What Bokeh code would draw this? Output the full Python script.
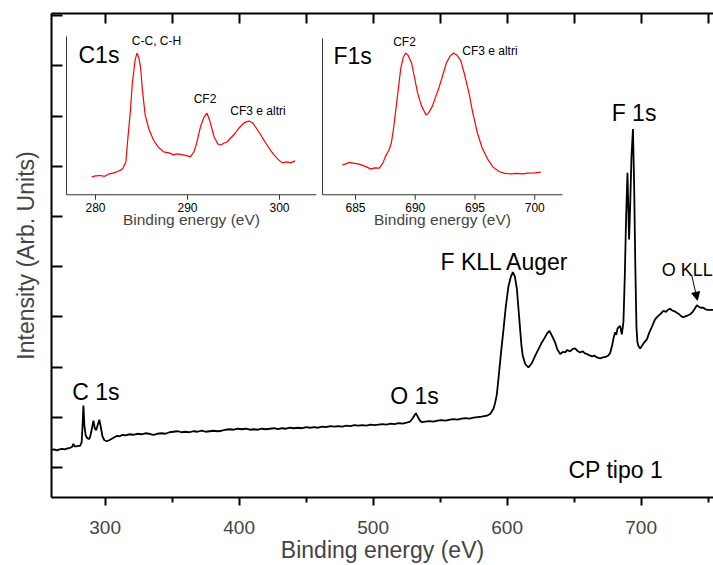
from bokeh.plotting import figure
from bokeh.models import Range1d, LinearAxis, FixedTicker, Label, Arrow, NormalHead
from bokeh.core.properties import value
from bokeh.embed import file_html
from bokeh.resources import INLINE

FONT = "Liberation Sans"

# ---------------- survey spectrum (Binding energy eV, intensity arb. units) -------------
energy = [260, 262, 264, 266, 268, 270, 272, 274, 275.5, 276.3, 277.2, 278.5, 280, 281.3, 282.5,
          283.2, 283.8, 284.6, 285.5, 286.5, 287.5, 288.3, 289.2, 290.2, 291.3, 292.3, 293.3, 294.3,
          295.7, 296.8, 298, 299.5, 301.3, 303, 305, 307, 309, 311, 313, 315, 318, 321, 324, 327,
          330, 333, 336, 339, 342, 345, 348, 351, 354, 357, 360, 363, 366, 369, 372, 375, 378, 381,
          384, 387, 390, 393, 396, 399, 402, 405, 408, 411, 414, 417, 420, 423, 426, 429, 432, 435,
          438, 441, 444, 447, 450, 453, 456, 459, 462, 465, 468, 471, 474, 477, 480, 483, 486, 489,
          492, 495, 498, 501, 504, 507, 510, 513, 516, 519, 522, 525, 527.5, 529.5, 531.9, 533.5,
          535, 536.5, 539, 542, 545, 548, 551, 554, 557.5, 560, 563, 566, 569, 572, 575, 578, 581,
          583, 585, 587.5, 589.8, 591, 592.3, 593.5, 595.5, 597.3, 599, 601, 602.8, 604.3, 605.8,
          607.3, 608.5, 609.7, 610.7, 611.7, 613.5, 615.9, 618.5, 620.9, 623.5, 625.9, 628, 629.8,
          631.6, 633.5, 635.8, 637.5, 639.6, 641.5, 643.3, 645, 647, 649, 650.7, 652.5, 654.5,
          656.5, 658, 659.5, 661.5, 663.5, 665, 667, 669.4, 671.5, 673.5, 675.5, 676.9, 678.5,
          679.6, 680.6, 681.5, 682.3, 683.1, 684.3, 685.6, 686.8, 687.8, 688.8, 689.8, 690.5, 691.0,
          691.8, 692.8, 693.9, 694.8, 695.6, 696.5, 697.2, 698.0, 699.3, 700.5, 702, 704.3, 706,
          708, 710.4, 712, 714.5, 716.6, 718.5, 720, 721.6, 723, 725, 726.6, 728.5, 730, 731.6, 733,
          735, 736.6, 738.5, 740, 741.6, 743, 744.5, 746.5, 748, 749.5, 751, 753.8]
intensity = [0.95, 0.96, 0.94, 0.96, 0.97, 0.96, 0.98, 0.99, 1.01, 1.07, 1.02, 1.02, 1.03, 1.03, 1.10,
             1.45, 1.83, 1.42, 1.24, 1.19, 1.17, 1.17, 1.25, 1.38, 1.53, 1.38, 1.34, 1.43,
             1.55, 1.40, 1.22, 1.14, 1.12, 1.14, 1.17, 1.20, 1.23, 1.22, 1.25, 1.24, 1.26, 1.25, 1.27, 1.26,
             1.28, 1.27, 1.25, 1.27, 1.28, 1.27, 1.30, 1.31, 1.32, 1.30, 1.31, 1.30, 1.32, 1.31, 1.33, 1.31, 1.32, 1.33,
             1.32, 1.33, 1.35, 1.36, 1.35, 1.37, 1.36, 1.37, 1.35, 1.36, 1.35, 1.37, 1.36, 1.37, 1.38, 1.36, 1.38, 1.37,
             1.39, 1.38, 1.39, 1.38, 1.40, 1.39, 1.40, 1.39, 1.41, 1.40, 1.42, 1.41, 1.42, 1.41, 1.43, 1.42, 1.44, 1.43,
             1.44, 1.43, 1.45, 1.44, 1.45, 1.46, 1.45, 1.47, 1.46, 1.48, 1.47, 1.49, 1.51, 1.58, 1.68, 1.60,
             1.53, 1.50, 1.51, 1.52, 1.51, 1.53, 1.54, 1.53, 1.55, 1.56, 1.55, 1.57, 1.58, 1.57, 1.59, 1.60, 1.61,
             1.62, 1.63, 1.67, 1.77, 1.88, 2.05, 2.36, 2.90, 3.35, 3.80, 4.21, 4.40, 4.49, 4.40,
             4.15, 3.75, 3.35, 3.02, 2.82, 2.66, 2.59, 2.68, 2.82, 2.96, 3.09, 3.18, 3.27,
             3.32, 3.22, 3.09, 2.95, 2.86, 2.90, 2.89, 2.94, 2.91, 2.96, 2.97, 2.92, 2.89,
             2.91, 2.87, 2.86, 2.83, 2.81, 2.83, 2.79, 2.77, 2.79, 2.80, 2.83, 2.88, 3.05,
             3.20, 3.29, 3.24, 3.36, 3.39, 3.42, 3.25, 3.50, 4.40, 5.60, 6.47, 5.70, 5.14,
             5.80, 6.80, 7.34, 6.20, 4.70, 3.40, 3.10, 3.02, 2.97, 3.02, 3.08, 3.15, 3.28,
             3.40, 3.55, 3.60, 3.66, 3.72, 3.70, 3.74, 3.76, 3.73, 3.71, 3.68, 3.65, 3.61, 3.59, 3.61,
             3.63, 3.65, 3.70, 3.76, 3.83, 3.80, 3.78, 3.78, 3.75, 3.74, 3.74, 3.74]

x_ticks = [300, 400, 500, 600, 700]
x_minor = [350, 450, 550, 650, 750]
y_ticks = [0.6, 1.6, 2.6, 3.6, 4.6, 5.6, 6.6, 7.6, 8.6, 9.6]

# ---------------- C1s high resolution inset ----------------
c1s_energy = [279.6, 280.0, 280.5, 281.0, 281.5, 282.0, 282.4, 282.8, 283.0, 283.2, 283.3, 283.5, 283.8,
              284.0, 284.3, 284.5, 284.7, 284.9, 285.1, 285.4, 285.8, 286.3, 286.8, 287.4, 288.0, 288.5,
              288.9, 289.5, 290.0, 290.3, 290.7, 291.0, 291.4, 291.8, 292.1, 292.4, 292.9, 293.3, 293.6,
              294.0, 294.3, 294.8, 295.2, 295.6, 295.9, 296.3, 296.7, 297.1, 297.4, 297.9, 298.5, 299.0,
              299.4, 299.9, 300.3, 300.8, 301.2, 301.7]
c1s_counts = [18, 19, 19.3, 18.5, 21, 22, 23.3, 25, 27, 31, 33, 55, 85,
              112, 135, 142.3, 138, 128, 105, 80, 66, 55, 48, 43, 42, 40,
              41, 40, 39, 38, 43, 52, 68, 78, 82, 75, 58, 51, 50,
              52, 53, 58, 62, 67, 70, 73, 74, 72, 68, 61, 52, 45,
              40, 35, 32, 33, 32, 34]
c1s_ticks = [280, 290, 300]

# ---------------- F1s high resolution inset ----------------
f1s_energy = [683.9, 684.2, 684.5, 684.8, 685.2, 685.5, 686.0, 686.3, 686.6, 687.0, 687.3, 687.5, 687.8,
              688.0, 688.2, 688.4, 688.6, 688.8, 689.0, 689.2, 689.4, 689.7, 689.9, 690.2, 690.5, 690.9,
              691.1, 691.4, 691.7, 692.0, 692.3, 692.6, 692.9, 693.2, 693.5, 693.8, 694.1, 694.5, 694.8,
              695.2, 695.6, 696.1, 696.5, 697.0, 697.5, 698.0, 698.5, 699.0, 699.4, 700.0, 700.5]
f1s_counts = [30, 31, 32.5, 31.7, 31, 30, 27.5, 25.7, 27, 26.7, 32, 38.3, 45,
              52, 68, 88, 108, 128, 138, 142.3, 140, 132, 120, 102, 90, 80,
              82, 88, 98, 108, 120, 132, 139, 142.3, 140, 135, 122, 102, 83,
              62, 47, 35, 28, 23.3, 21.5, 21, 21.5, 21, 21.7, 22, 22.7]
f1s_ticks = [685, 690, 695, 700]

# inset frames (in inset coordinates)
C1S_XLIM = (276.85, 304.0)
F1S_XLIM = (682.24, 702.32)
C1S_TOP = 159
F1S_TOP = 157

p = figure(width=713, height=565, x_range=Range1d(260, 754), y_range=Range1d(0, 9.643),
           output_backend="svg", toolbar_location=None,
           min_border_left=51, min_border_right=0, min_border_top=13, min_border_bottom=66)
p.outline_line_color = None
p.grid.visible = False
p.background_fill_color = "white"

p.extra_x_ranges = {"c1s": Range1d(275.217, 347.174), "f1s": Range1d(659.561, 714.958)}
p.extra_y_ranges = {"ins": Range1d(-304, 182)}

# main axes
xa = p.xaxis[0]
xa.ticker = FixedTicker(ticks=x_ticks, minor_ticks=x_minor)
xa.axis_label = "Binding energy (eV)"
xa.axis_label_text_font = FONT
xa.axis_label_text_font_size = "23px"
xa.axis_label_text_font_style = "normal"
xa.axis_label_standoff = 0
xa.major_label_text_font = FONT
xa.major_label_text_font_size = "19px"
xa.major_label_standoff = 15
xa.axis_line_width = 2
xa.major_tick_line_width = 2
xa.minor_tick_line_width = 2
xa.major_tick_in = 0
xa.major_tick_out = 8
xa.minor_tick_in = 0
xa.minor_tick_out = 5

blank_y = {t: "" for t in y_ticks}
ya = p.yaxis[0]
ya.ticker = FixedTicker(ticks=y_ticks, minor_ticks=[])
ya.axis_label = "Intensity (Arb. Units)"
ya.axis_label_text_font = FONT
ya.axis_label_text_font_size = "23px"
ya.axis_label_text_font_style = "normal"
ya.axis_label_standoff = 13
ya.major_label_overrides = blank_y
ya.major_label_standoff = 0
ya.axis_line_width = 2
ya.major_tick_line_width = 2
ya.major_tick_in = 11
ya.major_tick_out = 0
ya.minor_tick_in = 0
ya.minor_tick_out = 0

top = LinearAxis(ticker=FixedTicker(ticks=x_ticks, minor_ticks=x_minor),
                 major_label_overrides={t: "" for t in x_ticks}, major_label_standoff=0,
                 axis_line_width=2, major_tick_line_width=2, minor_tick_line_width=2,
                 major_tick_in=10, major_tick_out=0, minor_tick_in=10, minor_tick_out=0)
p.add_layout(top, "above")

# survey spectrum
p.line(energy, intensity, line_color="black", line_width=1.8)

# peak labels
def lab(x, y, t, size="23px", align="left"):
    p.add_layout(Label(x=x, y=y, text=t, text_font=FONT, text_font_size=size,
                       text_align=align, text_baseline="alphabetic", text_color="black"))

lab(275.5, 2.10, "C 1s")
lab(512.7, 2.02, "O 1s")
lab(646.6, 4.70, "F KLL Auger", align="right")
lab(678.0, 7.66, "F 1s")
lab(715.4, 4.54, "O KLL", size="18px")
lab(645.8, 0.54, "CP tipo 1")

p.add_layout(Arrow(end=NormalHead(size=8, line_color="black", fill_color="black", line_width=1),
                   x_start=737.8, y_start=4.42, x_end=742.0, y_end=3.93,
                   line_color="black", line_width=1))

# ---------------- insets ----------------
AX_COL = "#333333"

def inset(rname, xlim, top_v, ticks, ex, cnt):
    p.line(ex, cnt, x_range_name=rname, y_range_name="ins", line_color="#ff0000", line_width=1.2)
    p.segment(x0=[xlim[0], xlim[0]], y0=[0, 0], x1=[xlim[1], xlim[0]], y1=[0, top_v],
              x_range_name=rname, y_range_name="ins", line_color=AX_COL, line_width=1)
    p.segment(x0=ticks, y0=[0] * len(ticks), x1=ticks, y1=[-5] * len(ticks),
              x_range_name=rname, y_range_name="ins", line_color=AX_COL, line_width=1)
    p.text(x=ticks, y=[-12.5] * len(ticks), text=[str(t) for t in ticks],
           x_range_name=rname, y_range_name="ins", text_font=value(FONT),
           text_font_size="12px", text_align="center", text_baseline="middle", text_color="black")
    p.add_layout(Label(x=(xlim[0] + xlim[1]) / 2, y=-25, text="Binding energy (eV)",
                       x_range_name=rname, y_range_name="ins", text_font=FONT,
                       text_font_size="15.5px", text_align="center", text_baseline="middle"))

inset("c1s", C1S_XLIM, C1S_TOP, c1s_ticks, c1s_energy, c1s_counts)
inset("f1s", F1S_XLIM, F1S_TOP, f1s_ticks, f1s_energy, f1s_counts)

def ilab(rname, x, y, t, size="12px", align="center"):
    p.add_layout(Label(x=x, y=y, text=t, x_range_name=rname, y_range_name="ins",
                       text_font=FONT, text_font_size=size, text_align=align,
                       text_baseline="middle", text_color="black"))

ilab("c1s", 278.15, 140, "C1s", size="23px", align="left")
ilab("c1s", 286.63, 154, "C-C, C-H")
ilab("c1s", 291.9, 96, "CF2")
ilab("c1s", 297.66, 84, "CF3 e altri")
ilab("f1s", 683.16, 139, "F1s", size="23px", align="left")
ilab("f1s", 689.1, 153, "CF2")
ilab("f1s", 696.25, 144, "CF3 e altri")

open("out.html", "w").write(file_html(p, INLINE))
